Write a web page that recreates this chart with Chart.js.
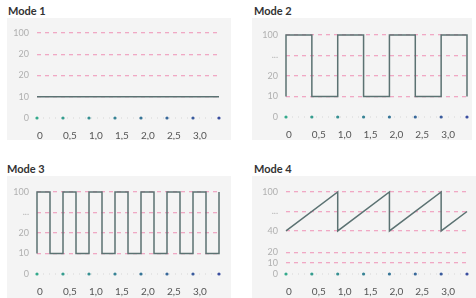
<!DOCTYPE html>
<html>
<head>
<meta charset="utf-8">
<script src="https://cdn.jsdelivr.net/npm/chart.js@4/dist/chart.umd.min.js"></script>
<style>
  html,body{margin:0;padding:0;background:#fff;}
  body{width:476px;height:298px;position:relative;overflow:hidden;font-family:Lato,"Open Sans",sans-serif;}
  .title{position:absolute;font-family:Lato,sans-serif;font-weight:bold;font-size:11px;color:#333;line-height:12px;}
  .box{position:absolute;background:#f4f4f4;}
  .box canvas{display:block;}
</style>
</head>
<body>
<div class="title" style="left:8px;top:5px;">Mode 1</div>
<div class="title" style="left:254px;top:5px;">Mode 2</div>
<div class="title" style="left:7px;top:163px;">Mode 3</div>
<div class="title" style="left:254px;top:163px;">Mode 4</div>
<div class="box" style="left:7px;top:18px;width:224px;height:122px;"><canvas id="c1" width="224" height="122"></canvas></div>
<div class="box" style="left:252px;top:18px;width:220px;height:122px;"><canvas id="c2" width="220" height="122"></canvas></div>
<div class="box" style="left:7px;top:176px;width:224px;height:122px;"><canvas id="c3" width="224" height="122"></canvas></div>
<div class="box" style="left:252px;top:176px;width:224px;height:122px;"><canvas id="c4" width="224" height="122"></canvas></div>
<script>
// ---- time axis ----
const xTicks = [0, 0.5, 1.0, 1.5, 2.0, 2.5, 3.0, 3.5];
const xTickLabels = ['0', '0,5', '1,0', '1,5', '2,0', '2,5', '3,0', ''];

// ---- y levels (tick slots) and labels per mode ----
const yLevels1 = [0, 1, 2, 3, 4];
const yLabels1 = ['0', '10', '20', '20', '100'];
const yLevels2 = [0, 1, 2, 3, 4];
const yLabels2 = ['0', '10', '20', '...', '100'];
const yLevels3 = [0, 1, 2, 3, 4];
const yLabels3 = ['0', '10', '20', '...', '100'];
const yLevels4 = [0, 0.55, 1.05, 2.1, 3.05, 4];
const yLabels4 = ['0', '10', '20', '40', '...', '100'];

// ---- signals (time, level) ----
const mode1T = [0, 3.5];
const mode1Y = [1, 1];

const mode2T = [0, 0, 0.5, 0.5, 1.0, 1.0, 1.5, 1.5, 2.0, 2.0, 2.5, 2.5, 3.0, 3.0, 3.5, 3.5];
const mode2Y = [1, 4, 4, 1, 1, 4, 4, 1, 1, 4, 4, 1, 1, 4, 4, 1];

const mode3T = [0, 0, 0.25, 0.25, 0.5, 0.5, 0.75, 0.75, 1.0, 1.0, 1.25, 1.25, 1.5, 1.5, 1.75, 1.75,
                2.0, 2.0, 2.25, 2.25, 2.5, 2.5, 2.75, 2.75, 3.0, 3.0, 3.25, 3.25, 3.5, 3.5];
const mode3Y = [1, 4, 4, 1, 1, 4, 4, 1, 1, 4, 4, 1, 1, 4, 4, 1,
                1, 4, 4, 1, 1, 4, 4, 1, 1, 4, 4, 1, 1, 4];

const mode4T = [0, 1.0, 1.0, 2.0, 2.0, 3.0, 3.0, 3.5];
const mode4Y = [2.1, 4, 2.1, 4, 2.1, 4, 2.1, 3.05];

// ---- styles ----
const lineColor = '#5b7272';
const gridColor = '#f0a8c4';
const dotStart = [52, 170, 140];
const dotEnd = [58, 78, 160];
function dotColors(n) {
  const out = [];
  for (let i = 0; i < n; i++) {
    const t = n > 1 ? i / (n - 1) : 0;
    const c = dotStart.map((v, k) => Math.round(v + (dotEnd[k] - v) * t));
    out.push(`rgb(${c[0]},${c[1]},${c[2]})`);
  }
  return out;
}

function pts(tt, yy) { return tt.map((t, i) => ({x: t, y: yy[i]})); }

function makeChart(id, T, Y, levels, labels, lay) {
  const baseline = xTicks.map(t => ({x: t, y: 0}));
  new Chart(document.getElementById(id), {
    type: 'scatter',
    data: {
      datasets: [
        {
          data: pts(T, Y), showLine: true, borderColor: lineColor, borderWidth: 1.5,
          pointRadius: 0, tension: 0, order: 2
        },
        {
          data: baseline, showLine: true, borderColor: '#d6d6d6', borderWidth: 1,
          borderDash: [1, 5], pointRadius: 1.6, pointBorderWidth: 0,
          pointBackgroundColor: dotColors(xTicks.length), order: 1
        }
      ]
    },
    options: {
      responsive: false, animation: false, devicePixelRatio: 1,
      clip: false,
      layout: {padding: {top: lay.top, right: lay.right, left: 0, bottom: 0}},
      plugins: {legend: {display: false}, tooltip: {enabled: false}},
      scales: {
        x: {
          type: 'linear', min: 0, max: 3.5,
          afterBuildTicks: s => { s.ticks = xTicks.map(v => ({value: v})); },
          afterFit: s => { s.height = lay.axisH; },
          grid: {display: false}, border: {display: false},
          ticks: {
            padding: 4, color: '#555', font: {family: 'Lato', size: 10},
            maxRotation: 0, autoSkip: false, align: 'start',
            callback: (v, i) => xTickLabels[i]
          }
        },
        y: {
          type: 'linear', min: 0, max: 4,
          afterBuildTicks: s => { s.ticks = levels.map(v => ({value: v})); },
          afterFit: s => { s.width = lay.left; },
          grid: {
            drawTicks: false, lineWidth: 1.3,
            color: c => (c.tick && c.tick.value === 0) ? 'rgba(0,0,0,0)' : gridColor
          },
          border: {display: false, dash: [4, 4]},
          ticks: {
            padding: 8, color: '#b0b0b0', font: {family: 'Lato', size: 9},
            autoSkip: false,
            callback: (v, i) => labels[i]
          }
        }
      }
    }
  });
}

makeChart('c1', mode1T, mode1Y, yLevels1, yLabels1, {top: 15, right: 12, left: 30, axisH: 22});
makeChart('c2', mode2T, mode2Y, yLevels2, yLabels2, {top: 17, right: 5, left: 34, axisH: 23});
makeChart('c3', mode3T, mode3Y, yLevels3, yLabels3, {top: 16, right: 12, left: 30, axisH: 24});
makeChart('c4', mode4T, mode4Y, yLevels4, yLabels4, {top: 16, right: 9, left: 34, axisH: 24});
</script>
</body>
</html>
